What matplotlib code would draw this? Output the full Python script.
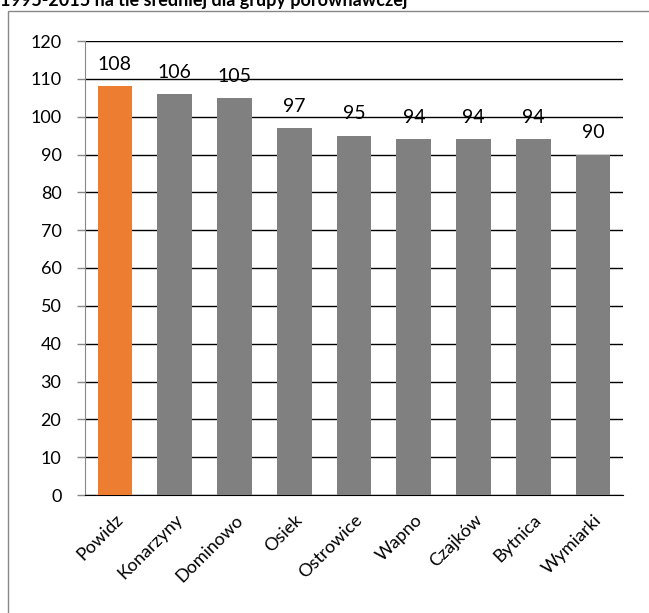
import matplotlib.pyplot as plt
from matplotlib.patches import Rectangle

# data
gminy = ['Powidz', 'Konarzyny', 'Dominowo', 'Osiek', 'Ostrowice',
         'Wapno', 'Czajków', 'Bytnica', 'Wymiarki']
wartosci = [108, 106, 105, 97, 95, 94, 94, 94, 90]
kolory = ['#ED7D31'] + ['#808080'] * 8
yticks = list(range(0, 121, 10))

plt.rcParams['font.family'] = ['Lato', 'DejaVu Sans']

fig = plt.figure(figsize=(6.49, 6.13), dpi=100)

# outer frame of the chart (cut off at right and bottom)
fig.patches.append(Rectangle((8 / 649, -0.1), 1.0, 1 - 11 / 613 + 0.1,
                             transform=fig.transFigure, fill=False,
                             edgecolor='#888888', linewidth=1))

# title, partly cut off at the top as in the source
fig.text(0.0, 1 - 6 / 613, '1995-2015 na tle średniej dla grupy porównawczej',
         fontsize=13, fontweight='bold', ha='left', va='baseline')

ax = fig.add_axes([85 / 649, 1 - 495 / 613, (623 - 85) / 649, (495 - 41) / 613])

x = range(len(gminy))
ax.bar(x, wartosci, width=0.58, color=kolory, zorder=3)
for i, v in enumerate(wartosci):
    ax.text(i, v + 3.5, str(v), ha='center', va='bottom', fontsize=14, zorder=4)

ax.set_ylim(0, 120)
ax.set_xlim(-0.5, len(gminy) - 0.5)
ax.set_yticks(yticks)
ax.yaxis.grid(True, color='black', linewidth=1, zorder=0)
ax.tick_params(axis='y', length=6, width=1, color='#888888', pad=11, labelsize=13)
ax.tick_params(axis='x', length=0, pad=12, labelsize=13)
ax.set_xticks(list(x))
ax.set_xticklabels(gminy, rotation=45, ha='right', rotation_mode='anchor')

for s in ['top', 'right']:
    ax.spines[s].set_visible(False)
ax.spines['left'].set_color('#888888')
ax.spines['bottom'].set_color('black')

fig.savefig('out.png', dpi=100)
